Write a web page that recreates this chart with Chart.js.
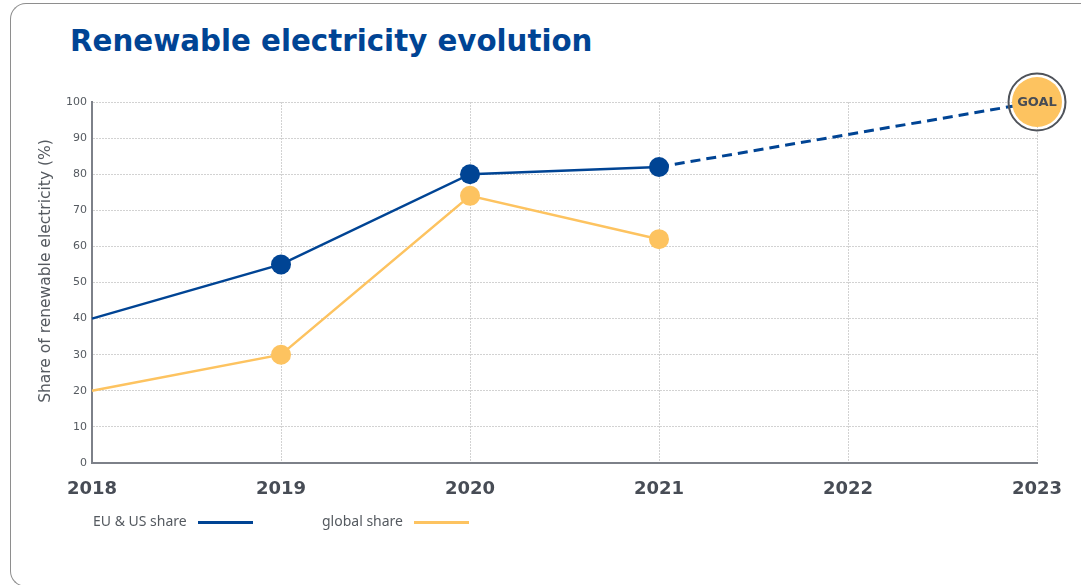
<!DOCTYPE html>
<html>
<head>
<meta charset="utf-8">
<title>Renewable electricity evolution</title>
<script src="https://cdn.jsdelivr.net/npm/chart.js@4.4.1/dist/chart.umd.min.js"></script>
<style>
  html, body { margin: 0; padding: 0; background: #fff; width: 1081px; height: 585px; overflow: hidden; font-family: "DejaVu Sans", sans-serif; }
  .card { position: absolute; left: 10px; top: 3px; width: 1071px; height: 584px; box-sizing: border-box; border: 1.5px solid #8e8e8e; border-right: none; border-radius: 16px 0 0 16px; }
  h1 { position: absolute; left: 70px; top: 27px; margin: 0; font: bold 29.3px/29px "DejaVu Sans", sans-serif; color: #004494; white-space: nowrap; }
  #chartBox { position: absolute; left: 0; top: 0; width: 1081px; height: 585px; }
  .ytitle { position: absolute; left: -105px; top: 262px; width: 300px; height: 18px; line-height: 18px; text-align: center; font-size: 15.5px; color: #555a60; transform: rotate(-90deg); white-space: nowrap; }
  .legend { position: absolute; top: 511px; left: 0; height: 20px; font: 14px/20px "Noto Sans", "DejaVu Sans", sans-serif; color: #555a60; white-space: nowrap; }
  .legend .item { position: absolute; top: 0; white-space: nowrap; }
  .legend .swatch { display: inline-block; width: 55px; height: 3px; margin-left: 11px; vertical-align: middle; position: relative; top: 0px; }
</style>
</head>
<body>
<div class="card"></div>
<h1>Renewable electricity evolution</h1>
<div id="chartBox"><canvas id="chart" width="1081" height="585"></canvas></div>
<div class="ytitle">Share of renewable electricity (%)</div>
<div class="legend" id="legend"></div>
<script>
// Years on the horizontal axis
const years = ['2018', '2019', '2020', '2021', '2022', '2023'];
// Share of renewable electricity, percent (2023 value is the target)
const euUsShare = [40, 55, 80, 82, null, 100];
const globalShare = [20, 30, 74, 62, null, null];
// Index from which the EU & US line becomes a projection
const projectionStart = 3;
const goalLabel = 'GOAL';
const seriesNames = ['EU & US share', 'global share'];

const NAVY = '#004494';
const GOLD = '#FDC360';
const TEXT = '#474c55';

// Goal badge: dark ring round the last EU & US point, with its label
const goalBadge = {
  id: 'goalBadge',
  afterDatasetsDraw(chart) {
    const meta = chart.getDatasetMeta(0);
    const last = meta.data[meta.data.length - 1];
    if (!last) return;
    const { ctx } = chart;
    ctx.save();
    ctx.beginPath();
    ctx.arc(last.x, last.y, 28.5, 0, Math.PI * 2);
    ctx.lineWidth = 2;
    ctx.strokeStyle = '#4f535a';
    ctx.stroke();
    ctx.font = 'bold 13px "DejaVu Sans", sans-serif';
    ctx.fillStyle = TEXT;
    ctx.textAlign = 'center';
    ctx.textBaseline = 'middle';
    ctx.fillText(goalLabel, last.x, last.y + 1);
    ctx.restore();
  }
};

const gridStyle = { color: '#d2d2d2', lineWidth: 1, drawTicks: false };
const axisBorder = { display: true, color: '#7d8189', width: 2, dash: [2, 1] };

const chart = new Chart(document.getElementById('chart'), {
  type: 'line',
  data: {
    labels: years,
    datasets: [
      {
        label: seriesNames[0],
        data: euUsShare,
        order: 2,
        borderColor: NAVY,
        borderWidth: 2.5,
        spanGaps: true,
        clip: false,
        pointRadius: euUsShare.map((v, i) => i === 0 || v === null ? 0 : (i === euUsShare.length - 1 ? 25 : 10)),
        pointHoverRadius: euUsShare.map((v, i) => i === 0 || v === null ? 0 : (i === euUsShare.length - 1 ? 25 : 10)),
        pointBackgroundColor: euUsShare.map((v, i) => i === euUsShare.length - 1 ? GOLD : NAVY),
        pointBorderWidth: 0,
        segment: {
          borderDash: ctx => ctx.p0DataIndex >= projectionStart ? [10, 6] : undefined,
          borderWidth: ctx => ctx.p0DataIndex >= projectionStart ? 3 : 2.5
        }
      },
      {
        label: seriesNames[1],
        data: globalShare,
        order: 1,
        borderColor: GOLD,
        borderWidth: 2.5,
        clip: false,
        pointRadius: globalShare.map((v, i) => i === 0 ? 0 : 10),
        pointHoverRadius: globalShare.map((v, i) => i === 0 ? 0 : 10),
        pointBackgroundColor: GOLD,
        pointBorderWidth: 0
      }
    ]
  },
  options: {
    responsive: false,
    animation: false,
    events: [],
    layout: { padding: { left: 0, top: 102, right: 44, bottom: 82 } },
    plugins: {
      legend: { display: false },
      tooltip: { enabled: false },
      title: { display: false }
    },
    scales: {
      x: {
        type: 'category',
        offset: false,
        afterFit(scale) { scale.height = 40; },
        grid: gridStyle,
        border: axisBorder,
        ticks: {
          padding: 16,
          maxRotation: 0,
          autoSkip: false,
          color: TEXT,
          font: { family: '"DejaVu Sans", sans-serif', size: 18, weight: 'bold' }
        }
      },
      y: {
        min: 0,
        max: 100,
        afterFit(scale) { scale.width = 92; },
        grid: gridStyle,
        border: axisBorder,
        ticks: {
          stepSize: 10,
          padding: 5,
          color: '#555a60',
          font: { family: '"DejaVu Sans", sans-serif', size: 11 }
        }
      }
    }
  },
  plugins: [goalBadge]
});

// Legend: name followed by a short line in the series colour
const legendEl = document.getElementById('legend');
const legendItems = [
  { name: seriesNames[0], color: NAVY, left: 93 },
  { name: seriesNames[1], color: GOLD, left: 322 }
];
legendItems.forEach(item => {
  const el = document.createElement('span');
  el.className = 'item';
  el.style.left = item.left + 'px';
  el.textContent = item.name;
  const sw = document.createElement('span');
  sw.className = 'swatch';
  sw.style.background = item.color;
  el.appendChild(sw);
  legendEl.appendChild(el);
});
</script>
</body>
</html>
